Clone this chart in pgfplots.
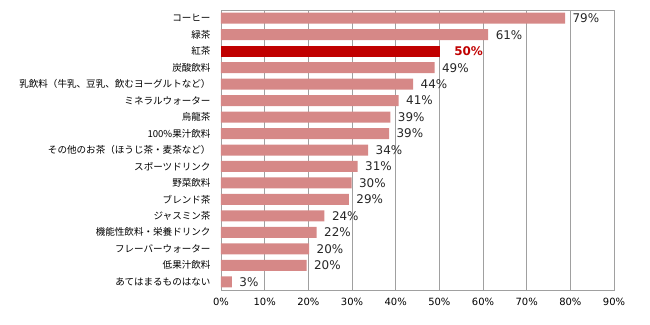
\documentclass[border=0pt]{standalone}
\usepackage{pgfplots}
\pgfplotsset{compat=1.18}
\usepackage{fontspec}
\setmainfont{DejaVu Sans}
\newfontfamily\jp{Noto Sans CJK JP}
\definecolor{barpink}{RGB}{214,136,135}
\definecolor{barred}{RGB}{192,0,0}
\definecolor{gridgray}{RGB}{160,160,160}
\begin{document}
\begin{tikzpicture}
\useasboundingbox (-221bp,-35bp) rectangle (429bp,290bp);
\begin{axis}[
  at={(0,0)}, anchor=south west,
  scale only axis, width=393bp, height=280bp,
  xbar, bar width=11bp, bar shift=0pt,
  xmin=0, xmax=90, ymin=-0.5, ymax=16.5,
  y dir=reverse,
  xtick={0,10,...,90},
  xticklabel={\pgfmathprintnumber{\tick}\%},
  /pgf/number format/assume math mode=true,
  ytick={0,...,16},
  yticklabels={コーヒー,緑茶,紅茶,炭酸飲料,乳飲料（牛乳、豆乳、飲むヨーグルトなど）,ミネラルウォーター,烏龍茶,100\%果汁飲料,その他のお茶（ほうじ茶・麦茶など）,スポーツドリンク,野菜飲料,ブレンド茶,ジャスミン茶,機能性飲料・栄養ドリンク,フレーバーウォーター,低果汁飲料,あてはまるものはない},
  yticklabel style={font=\jp\fontsize{9.6}{11}\selectfont, inner xsep=0pt},
  ytick style={draw=none}, xtick style={draw=none},
  yticklabel style={xshift=-6bp},
  xticklabel style={font=\fontsize{10}{11}\selectfont, yshift=-5bp},
  xmajorgrids, grid style={gridgray, line width=0.6pt},
  axis line style={gridgray, line width=0.6pt},
  point meta=explicit symbolic,
  nodes near coords,
  nodes near coords style={anchor=west, xshift=4bp, font=\fontsize{12}{13}\selectfont, text=black!85},
]
\addplot[fill=barpink, draw=none] coordinates {
(78.8,0) [79\%]
(61.2,1) [61\%]
(48.9,3) [49\%]
(44.0,4) [44\%]
(40.7,5) [41\%]
(38.8,6) [39\%]
(38.5,7) [39\%]
(33.7,8) [34\%]
(31.3,9) [31\%]
(29.9,10) [30\%]
(29.3,11) [29\%]
(23.7,12) [24\%]
(21.9,13) [22\%]
(20.2,14) [20\%]
(19.6,15) [20\%]
(2.5,16) [3\%]
};
\addplot[fill=barred, draw=none, nodes near coords style={text=barred, font=\bfseries\fontsize{12}{13}\selectfont, xshift=7bp}] coordinates {
(50.1,2) [50\%]
};
\end{axis}
\end{tikzpicture}
\end{document}
